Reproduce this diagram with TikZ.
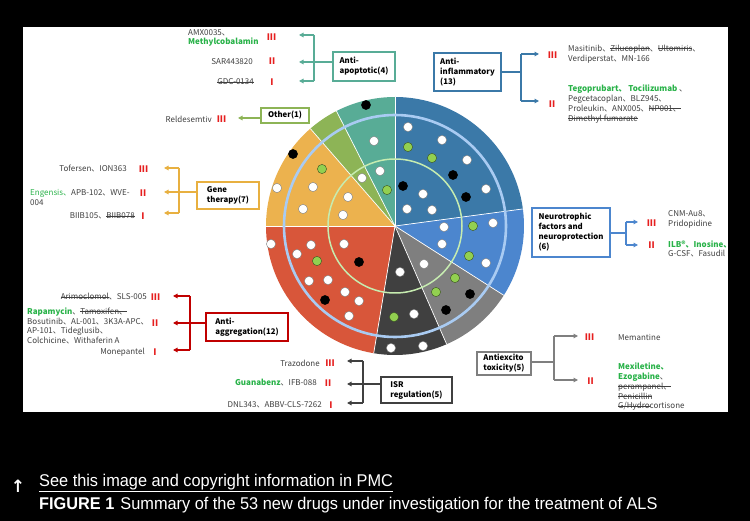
\documentclass[tikz,border=0pt]{standalone}
\usepackage{fontspec}
\setmainfont{Noto Sans CJK SC}
\newfontfamily\capfont[FakeStretch=0.96]{Liberation Sans}
\newfontfamily\symfont{DejaVu Sans}
\usetikzlibrary{arrows.meta}

\definecolor{inflW}{RGB}{59,121,168}
\definecolor{neuroW}{RGB}{76,134,206}
\definecolor{excW}{RGB}{127,127,127}
\definecolor{isrW}{RGB}{64,64,64}
\definecolor{aggrW}{RGB}{216,86,58}
\definecolor{geneW}{RGB}{236,178,78}
\definecolor{othW}{RGB}{141,180,86}
\definecolor{apoW}{RGB}{88,172,150}
\definecolor{aggrC}{RGB}{192,0,0}
\definecolor{geneC}{RGB}{232,176,64}
\definecolor{ringblue}{RGB}{169,203,242}
\definecolor{ringgreen}{RGB}{198,236,176}
\definecolor{drgreen}{RGB}{40,178,72}
\definecolor{dotgreen}{RGB}{146,208,80}
\definecolor{lvlred}{RGB}{230,30,30}
\definecolor{drugtxt}{RGB}{64,64,64}

\newcommand\gdrug[1]{\textcolor{drgreen}{\textbf{#1}}}
% struck-out drug names
\newsavebox\strkbox
\newcommand\strk[1]{\sbox\strkbox{#1}\rlap{\rule[0.3em]{\wd\strkbox}{0.5pt}}\usebox\strkbox}

\tikzset{
  catbox/.style={draw=#1, line width=1.6pt, fill=white, align=left, inner sep=0pt,
    font=\fontsize{7.8}{10}\selectfont\bfseries},
  brk/.style={draw=#1, line width=1.3pt},
  tip/.style={brk=#1, -{Triangle[length=4.5pt,width=4.5pt]}},
  drug/.style={font=\fontsize{8}{9.8}\selectfont, text=drugtxt, inner sep=0pt, align=left},
  lvl/.style={font=\fontsize{9}{9}\selectfont\bfseries, text=lvlred, inner sep=0pt},
  dotw/.style={fill=white, draw=gray, line width=0.4pt},
  dotg/.style={fill=dotgreen, draw=black!60!dotgreen, line width=0.4pt},
  dotb/.style={fill=black, draw=black, line width=0.4pt},
}

\begin{document}
\begin{tikzpicture}[x=1pt,y=-1pt]
% page and panel
\fill[black] (0,0) rectangle (750,521);
\fill[white] (23,27) rectangle (728,412);

% pie of the eight mechanisms
\begin{scope}[shift={(395,226)},y=1pt]
  \foreach \a/\b/\c in {7.6/90/inflW, -32.5/7.6/neuroW, -66.4/-32.5/excW,
      -99.5/-66.4/isrW, 180/260.5/aggrW, 131/180/geneW, 117/131/othW, 90/117/apoW}
    \fill[\c] (0,0) -- (\a:129) arc[start angle=\a, end angle=\b, radius=129] -- cycle;
  \foreach \a in {90,7.6,-32.5,-66.4,-99.5,180,131,117}
    \draw[white, line width=0.7pt] (0,0) -- (\a:129);
  \draw[ringblue, line width=2.6pt] (0,0) circle (111);
  \draw[ringgreen, line width=1.5pt] (0,0) circle (67);
\end{scope}

% drugs as dots
\foreach \p in {(374,141),(380,171),(362,178),(277,188),(313,187),(348,197),(303,209),
    (343,215),(408,127),(442,140),(467,160),(486,189),(423,194),(407,209),(432,210),
    (444,227),(493,223),(442,244),(486,263),(424,264),(400,272),(414,314),(391,348),
    (423,346),(271,244),(311,245),(344,244),(297,254),(309,281),(328,280),(345,292),
    (359,301),(349,316)}
  \filldraw[dotw] \p circle (4.6);
\foreach \p in {(387,190),(322,169),(408,147),(432,158),(473,226),(469,256),(455,278),
    (436,292),(394,317),(317,261)}
  \filldraw[dotg] \p circle (4.6);
\foreach \p in {(366,105),(293,154),(453,175),(403,186),(466,197),(470,294),(446,310),
    (359,262),(325,300)}
  \filldraw[dotb] \p circle (4.6);

% anti-apoptotic
\node[catbox=apoW, minimum width=62, minimum height=29] (apoBox) at (364,66.5) {Anti-\\apoptotic(4)};
\coordinate (apoT) at (314,35); \coordinate (apoB) at (314,81); \coordinate (apoM) at (314,62);
\draw[brk=apoW] (apoT) -- (apoB);
\draw[brk=apoW] (apoBox.west |- apoM) -- (apoM);
\foreach \n/\yy in {1/35,2/62,3/81} {
  \coordinate (apoA\n) at (314,\yy); \coordinate (apoE\n) at (299,\yy);
  \draw[tip=apoW] (apoA\n) -- (apoE\n);
}
\node[lvl] (apoIII) at (271.5,37) {III};
\node[lvl] (apoII) at (272,61) {II};
\node[lvl] (apoI) at (272,82) {I};
\node[drug, anchor=west] (apoD3) at (188,38) {AMX0035、\\\gdrug{Methylcobalamin}};
\node[drug, anchor=east] (apoD2) at (253,62) {SAR443820};
\node[drug, anchor=east] (apoD1) at (254,82) {\strk{GDC-0134}};

% other
\node[catbox=othW, minimum width=48, minimum height=15] (othBox) at (285,115.5) {Other(1)};
\coordinate (othE) at (238,118);
\draw[tip=othW] (othBox.west |- othE) -- (othE);
\node[lvl] (othIII) at (221.5,119) {III};
\node[drug, anchor=east] (othD3) at (212,119) {Reldesemtiv};

% anti-inflammatory
\node[catbox=inflW, minimum width=67, minimum height=38] (inflBox) at (467.5,72) {Anti-\\inflammatory\\(13)};
\coordinate (inflM) at (521,72);
\draw[brk=inflW] (inflBox.east) -- (inflM);
\draw[brk=inflW] (521,54) -- (521,101);
\foreach \n/\yy in {1/54,2/101} {
  \coordinate (inflA\n) at (521,\yy); \coordinate (inflE\n) at (539,\yy);
  \draw[tip=inflW] (inflA\n) -- (inflE\n);
}
\node[lvl] (inflIII) at (552.5,55) {III};
\node[lvl] (inflII) at (552,104) {II};
\node[drug, anchor=west] (inflD3) at (568,54) {Masitinib、\strk{Zilucoplan}、\strk{Ultomiris}、\\Verdiperstat、MN-166};
\node[drug, anchor=west] (inflD2) at (568,104) {\gdrug{Tegoprubart、 Tocilizumab} 、\\Pegcetacoplan、BLZ945、\\Proleukin、ANX005、\strk{NP001、}\\\strk{Dimethyl fumarate}};

% neurotrophic factors
\node[catbox=neuroW, minimum width=78, minimum height=49] (neuroBox) at (571,232.5) {Neurotrophic\\factors and\\neuroprotection\\(6)};
\coordinate (neuroM) at (626,233);
\draw[brk=neuroW] (neuroBox.east |- neuroM) -- (neuroM);
\draw[brk=neuroW] (626,222) -- (626,245);
\foreach \n/\yy in {1/222,2/245} {
  \coordinate (neuroA\n) at (626,\yy); \coordinate (neuroE\n) at (638,\yy);
  \draw[tip=neuroW] (neuroA\n) -- (neuroE\n);
}
\node[lvl] (neuroIII) at (651.5,223) {III};
\node[lvl] (neuroII) at (651.5,245) {II};
\node[drug, anchor=west] (neuroD3) at (668,219.5) {CNM-Au8、\\Pridopidine};
\node[drug, anchor=west] (neuroD2) at (668,249) {\gdrug{ILB®、Inosine、}\\G-CSF、Fasudil};

% antiexcitotoxicity
\node[catbox=excW, minimum width=54, minimum height=23] (excBox) at (504,363.5) {Antiexcito\\toxicity(5)};
\coordinate (excM) at (554,362);
\draw[brk=excW] (excBox.east |- excM) -- (excM);
\draw[brk=excW] (554,336) -- (554,380);
\foreach \n/\yy in {1/336,2/380} {
  \coordinate (excA\n) at (554,\yy); \coordinate (excE\n) at (578,\yy);
  \draw[tip=excW] (excA\n) -- (excE\n);
}
\node[lvl] (excIII) at (589.5,337) {III};
\node[lvl] (excII) at (590.5,381) {II};
\node[drug, anchor=west] (excD3) at (618,337) {Memantine};
\node[drug, anchor=west] (excD2) at (618,387) {\gdrug{Mexiletine、}\\\gdrug{Ezogabine}、\\\strk{perampanel、}\\\strk{Penicillin}\\\strk{G/Hydro}cortisone};

% ISR regulation
\node[catbox=isrW, minimum width=71, minimum height=26] (isrBox) at (416.5,390) {ISR\\regulation(5)};
\coordinate (isrM) at (363,384);
\draw[brk=isrW] (isrBox.west |- isrM) -- (isrM);
\draw[brk=isrW] (363,361) -- (363,403);
\foreach \n/\yy in {1/361,2/384,3/403} {
  \coordinate (isrA\n) at (363,\yy); \coordinate (isrE\n) at (347,\yy);
  \draw[tip=isrW] (isrA\n) -- (isrE\n);
}
\node[lvl] (isrIII) at (330,363) {III};
\node[lvl] (isrII) at (328,383) {II};
\node[lvl] (isrI) at (331,405) {I};
\node[drug, anchor=east] (isrD3) at (320,363) {Trazodone};
\node[drug, anchor=east] (isrD2) at (317,383) {\gdrug{Guanabenz}、IFB-088};
\node[drug, anchor=east] (isrD1) at (322,405) {DNL343、ABBV-CLS-7262};

% anti-aggregation
\node[catbox=aggrC, minimum width=82, minimum height=28] (aggrBox) at (247,327) {Anti-\\aggregation(12)};
\coordinate (aggrM) at (190,323);
\draw[brk=aggrC] (aggrBox.west |- aggrM) -- (aggrM);
\draw[brk=aggrC] (190,296) -- (190,350);
\foreach \n/\yy in {1/296,2/323,3/350} {
  \coordinate (aggrA\n) at (190,\yy); \coordinate (aggrE\n) at (173,\yy);
  \draw[tip=aggrC] (aggrA\n) -- (aggrE\n);
}
\node[lvl] (aggrIII) at (155.5,297) {III};
\node[lvl] (aggrII) at (155,323) {II};
\node[lvl] (aggrI) at (155,352) {I};
\node[drug, anchor=east] (aggrD3) at (147,297) {\strk{Arimoclomol}、SLS-005};
\node[drug, anchor=west] (aggrD2) at (27,326) {\gdrug{Rapamycin}、\strk{Tamoxifen、}\\Bosutinib、AL-001、3K3A-APC、\\AP-101、Tideglusib、\\Colchicine、Withaferin A};
\node[drug, anchor=east] (aggrD1) at (145,352) {Monepantel};

% gene therapy
\node[catbox=geneC, minimum width=62, minimum height=27] (geneBox) at (228,195.5) {Gene\\therapy(7)};
\coordinate (geneM) at (179,192);
\draw[brk=geneC] (geneBox.west |- geneM) -- (geneM);
\draw[brk=geneC] (179,168) -- (179,213);
\foreach \n/\yy in {1/168,2/192,3/213} {
  \coordinate (geneA\n) at (179,\yy); \coordinate (geneE\n) at (164,\yy);
  \draw[tip=geneC] (geneA\n) -- (geneE\n);
}
\node[lvl] (geneIII) at (143.5,169) {III};
\node[lvl] (geneII) at (143,193) {II};
\node[lvl] (geneI) at (143,216) {I};
\node[drug, anchor=east] (geneD3) at (127,168) {Tofersen、ION363};
\node[drug, anchor=west] (geneD2) at (30,197.5) {\textcolor{drgreen}{Engensis、}APB-102、WVE-\\004};
\node[drug, anchor=east] (geneD1) at (135,216) {BIIB105、\strk{BIIB078}};

% caption
\node[text=white, font=\symfont\bfseries\fontsize{17}{17}\selectfont, inner sep=0pt] (capArrow) at (18,486) {↑};
\node[text=white, font=\capfont\fontsize{17}{18}\selectfont, inner sep=0pt, anchor=west] (capLink) at (39,483) {\underline{See this image and copyright information in PMC}};
\node[text=white, font=\capfont\fontsize{17}{18}\selectfont, inner sep=0pt, anchor=west] (capText) at (39,505) {\textbf{FIGURE 1}\hspace{6pt}Summary of the 53 new drugs under investigation for the treatment of ALS};
\end{tikzpicture}
\end{document}
